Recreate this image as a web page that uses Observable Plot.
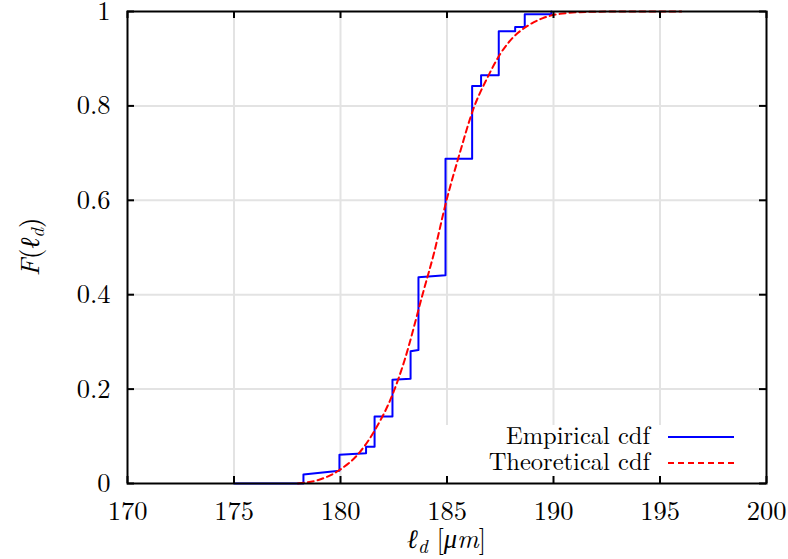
<!DOCTYPE html>
<html>
<head>
<meta charset="utf-8">
<script src="https://cdn.jsdelivr.net/npm/d3@7"></script>
<script src="https://cdn.jsdelivr.net/npm/@observablehq/plot@0.6"></script>
<style>
  html, body { margin: 0; padding: 0; background: #fff; }
  #chart svg { display: block; }
  #chart svg text, #chart svg tspan { font-family: "Latin Modern Roman", "Liberation Serif", serif !important; }
</style>
</head>
<body>
<div id="chart"></div>
<script>
// Axis ticks
const xTicks = [170, 175, 180, 185, 190, 195, 200];
const yTicks = [0, 0.2, 0.4, 0.6, 0.8, 1];

// Series names shown in the key
const seriesNames = ["Empirical cdf", "Theoretical cdf"];

// Empirical cdf of the measured lengths (vertices of the step path)
const empX = [175.0, 178.26, 178.26, 179.95, 179.95, 181.2, 181.2, 181.6, 181.6, 182.44, 182.44,
              183.29, 183.29, 183.66, 183.66, 184.93, 184.93, 186.18, 186.18, 186.6, 186.6,
              187.43, 187.43, 188.2, 188.2, 188.65, 188.65, 189.9, 189.9];
const empF = [0, 0, 0.019, 0.027, 0.061, 0.064, 0.078, 0.078, 0.142, 0.142, 0.220,
              0.222, 0.280, 0.283, 0.437, 0.441, 0.688, 0.688, 0.842, 0.842, 0.865,
              0.865, 0.958, 0.958, 0.967, 0.967, 0.994, 0.994, 1.0];

// Fitted (theoretical) cdf
const theoX = [178.0, 179.0, 179.9, 180.9, 181.6, 182.5, 183.0, 183.85, 184.4, 184.95, 185.6,
               186.25, 186.9, 187.5, 188.1, 188.8, 189.5, 190.3, 191.5, 193.0, 196.0];
const theoF = [0.0, 0.008, 0.027, 0.066, 0.112, 0.195, 0.26, 0.40, 0.49, 0.595, 0.70,
               0.795, 0.86, 0.91, 0.945, 0.970, 0.986, 0.995, 0.999, 1.0, 1.0];

const empirical = empX.map((x, i) => ({x, F: empF[i]}));
const theoretical = theoX.map((x, i) => ({x, F: theoF[i]}));

const W = 788, H = 559;
const M = {top: 11, right: 22, bottom: 76, left: 127};
const font = "Latin Modern Roman";
const fs = 26.5;      // tick labels and axis titles
const keyFs = 24.5;   // key entries
const gridColor = "#e3e3e3";
const blue = "#0000ff", red = "#ff0000";
const frameH = H - M.top - M.bottom, frameW = W - M.left - M.right;
const tickLen = 7;

const chart = Plot.plot({
  width: W, height: H,
  marginTop: M.top, marginRight: M.right, marginBottom: M.bottom, marginLeft: M.left,
  style: {fontFamily: font, fontSize: `${fs}px`, background: "#fff", color: "#000"},
  x: {domain: [170, 200], label: null},
  y: {domain: [0, 1], label: null},
  marks: [
    Plot.gridX(xTicks.slice(1, -1), {stroke: gridColor, strokeOpacity: 1, strokeWidth: 2}),
    Plot.gridY(yTicks.slice(1, -1), {stroke: gridColor, strokeOpacity: 1, strokeWidth: 2}),
    Plot.line(empirical, {x: "x", y: "F", stroke: blue, strokeWidth: 2}),
    Plot.line(theoretical, {x: "x", y: "F", stroke: red, strokeWidth: 2,
      strokeDasharray: "6,4", curve: "monotone-x"}),
    // inward ticks on all four sides
    Plot.tickX(xTicks, {x: d => d, stroke: "#000", strokeWidth: 2, insetTop: frameH - tickLen}),
    Plot.tickX(xTicks, {x: d => d, stroke: "#000", strokeWidth: 2, insetBottom: frameH - tickLen}),
    Plot.tickY(yTicks, {y: d => d, stroke: "#000", strokeWidth: 2, insetRight: frameW - tickLen}),
    Plot.tickY(yTicks, {y: d => d, stroke: "#000", strokeWidth: 2, insetLeft: frameW - tickLen}),
    Plot.frame({stroke: "#000", strokeWidth: 2}),
    Plot.axisX(xTicks, {anchor: "bottom", tickSize: 0, tickPadding: 18, fontSize: fs,
      tickFormat: d => String(d)}),
    Plot.axisY(yTicks, {anchor: "left", tickSize: 0, tickPadding: 17, fontSize: fs,
      tickFormat: d => String(d)})
  ]
});

document.getElementById("chart").appendChild(chart);

const svg = d3.select(chart);
const xs = chart.scale("x"), ys = chart.scale("y");

// Opaque key box, sitting above the grid but under the curves
const keyBox = {x0: 430, y0: 425, x1: W - M.right, y1: H - M.bottom};
svg.insert("rect", "[aria-label='line']")
  .attr("x", keyBox.x0).attr("y", keyBox.y0)
  .attr("width", keyBox.x1 - keyBox.x0).attr("height", keyBox.y1 - keyBox.y0)
  .attr("fill", "#fff");

// Key entries
const key = svg.append("g").attr("font-family", font).attr("font-size", keyFs);
const keyRows = [
  {name: seriesNames[0], y: 437, stroke: blue, dash: null},
  {name: seriesNames[1], y: 463, stroke: red, dash: "6,4"}
];
for (const r of keyRows) {
  key.append("text").attr("x", 650).attr("y", r.y).attr("dy", "0.3em")
    .attr("text-anchor", "end").text(r.name);
  key.append("line").attr("x1", 668).attr("x2", 734).attr("y1", r.y).attr("y2", r.y)
    .attr("stroke", r.stroke).attr("stroke-width", 2)
    .attr("stroke-dasharray", r.dash);
}

// Axis titles (math-style italics with subscripts)
const xMid = (xs.apply(170) + xs.apply(200)) / 2;
const xt = svg.append("text").attr("font-family", font).attr("font-size", fs)
  .attr("text-anchor", "middle").attr("x", xMid).attr("y", 548);
xt.append("tspan").attr("font-style", "italic").text("ℓ");
xt.append("tspan").attr("font-style", "italic").attr("font-size", 19).attr("dy", 5).text("d");
xt.append("tspan").attr("dy", -5).text(" [");
xt.append("tspan").attr("font-style", "italic").text("μm");
xt.append("tspan").text("]");

const yMid = (ys.apply(0) + ys.apply(1)) / 2;
const yt = svg.append("text").attr("font-family", font).attr("font-size", fs)
  .attr("text-anchor", "middle")
  .attr("transform", `translate(39,${yMid}) rotate(-90)`);
yt.append("tspan").attr("font-style", "italic").text("F");
yt.append("tspan").text("(");
yt.append("tspan").attr("font-style", "italic").text("ℓ");
yt.append("tspan").attr("font-style", "italic").attr("font-size", 19).attr("dy", 5).text("d");
yt.append("tspan").attr("dy", -5).text(")");
</script>
</body>
</html>
